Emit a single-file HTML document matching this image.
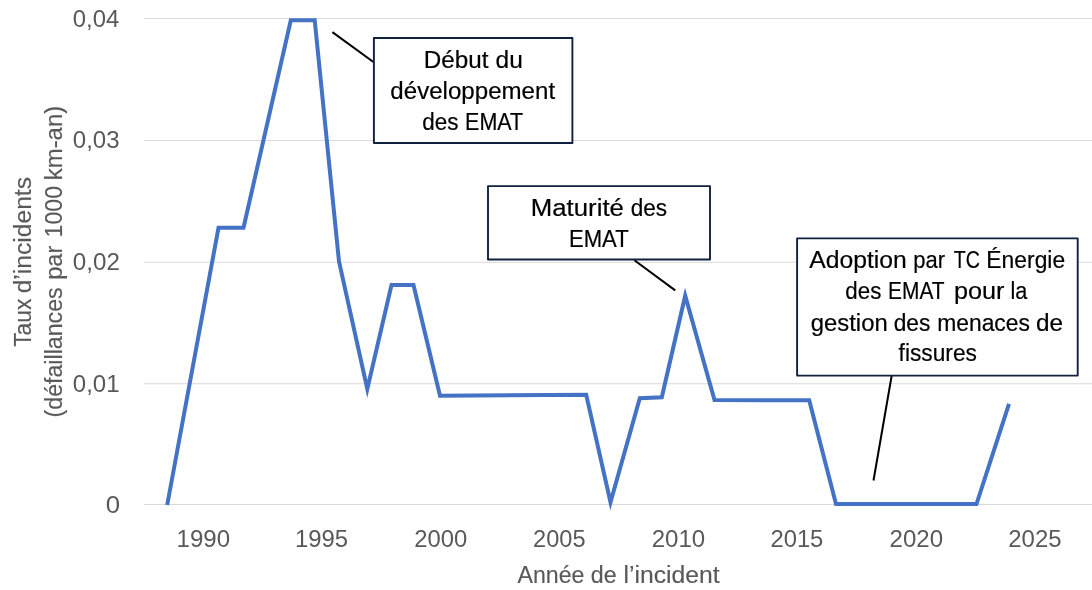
<!DOCTYPE html>
<html lang="fr">
<head>
<meta charset="utf-8">
<title>Taux d’incidents – EMAT</title>
<style>
  html, body { margin: 0; padding: 0; background: #ffffff; }
  body { width: 1092px; height: 590px; overflow: hidden; }
  svg { display: block; }
  text { font-family: "Liberation Sans", sans-serif; font-size: 24.6px; white-space: pre; }
  .ax { fill: #595959; stroke: #595959; stroke-width: 0.15px; }
  .tk { stroke: none; }
  .an { fill: #000000; stroke: #000000; stroke-width: 0.2px; }
  .grid line { stroke: #d9d9d9; stroke-width: 1.1; }
  .box { fill: #ffffff; stroke: #10213f; stroke-width: 1.9; stroke-linejoin: round; }
  .lead { stroke: #000000; stroke-width: 2; fill: none; }
  .series { fill: none; stroke: #4472c4; stroke-width: 4; stroke-linejoin: miter; stroke-miterlimit: 10; stroke-linecap: butt; }
</style>
</head>
<body>
<svg width="1092" height="590" viewBox="0 0 1092 590">
  <rect x="0" y="0" width="1092" height="590" fill="#ffffff"/>

  <!-- gridlines -->
  <g class="grid">
    <line x1="144" y1="18.5" x2="1092" y2="18.5"/>
    <line x1="144" y1="140.5" x2="1092" y2="140.5"/>
    <line x1="144" y1="262.3" x2="1092" y2="262.3"/>
    <line x1="144" y1="383.8" x2="1092" y2="383.8"/>
    <line x1="144" y1="504.5" x2="1092" y2="504.5"/>
  </g>

  <!-- y tick labels -->
  <text class="ax tk" y="27"><tspan x="72.8" textLength="46.52" lengthAdjust="spacingAndGlyphs">0,04</tspan></text>
  <text class="ax tk" y="148"><tspan x="72.8" textLength="46.78" lengthAdjust="spacingAndGlyphs">0,03</tspan></text>
  <text class="ax tk" y="270"><tspan x="72.8" textLength="47.04" lengthAdjust="spacingAndGlyphs">0,02</tspan></text>
  <text class="ax tk" y="392"><tspan x="72.8" textLength="46.77" lengthAdjust="spacingAndGlyphs">0,01</tspan></text>
  <text class="ax tk" y="513"><tspan x="105.8" textLength="14.33" lengthAdjust="spacingAndGlyphs">0</tspan></text>

  <!-- x tick labels -->
  <text class="ax tk" y="547"><tspan x="176.55" textLength="53.51" lengthAdjust="spacingAndGlyphs">1990</tspan></text>
  <text class="ax tk" y="547"><tspan x="295" textLength="53.12" lengthAdjust="spacingAndGlyphs">1995</tspan></text>
  <text class="ax tk" y="547"><tspan x="414.2" textLength="53.03" lengthAdjust="spacingAndGlyphs">2000</tspan></text>
  <text class="ax tk" y="547"><tspan x="533.1" textLength="52.42" lengthAdjust="spacingAndGlyphs">2005</tspan></text>
  <text class="ax tk" y="547"><tspan x="651.75" textLength="53.48" lengthAdjust="spacingAndGlyphs">2010</tspan></text>
  <text class="ax tk" y="547"><tspan x="770.4" textLength="52.98" lengthAdjust="spacingAndGlyphs">2015</tspan></text>
  <text class="ax tk" y="547"><tspan x="889.6" textLength="53.48" lengthAdjust="spacingAndGlyphs">2020</tspan></text>
  <text class="ax tk" y="547"><tspan x="1008.25" textLength="53.28" lengthAdjust="spacingAndGlyphs">2025</tspan></text>

  <!-- axis titles -->
  <text class="ax" y="583"><tspan x="517.45" textLength="67.05" lengthAdjust="spacingAndGlyphs">Année</tspan> <tspan x="590.85" textLength="25.88" lengthAdjust="spacingAndGlyphs">de</tspan> <tspan x="623.45" textLength="96.25" lengthAdjust="spacingAndGlyphs">l’incident</tspan></text>
  <text class="ax" transform="translate(30.6,0) rotate(-90)" y="0"><tspan x="-346.8" textLength="48.09" lengthAdjust="spacingAndGlyphs">Taux</tspan> <tspan x="-293.35" textLength="116.36" lengthAdjust="spacingAndGlyphs">d’incidents</tspan></text>
  <text class="ax" transform="translate(61.9,0) rotate(-90)" y="0"><tspan x="-417.45" textLength="130.06" lengthAdjust="spacingAndGlyphs">(défaillances</tspan> <tspan x="-279.85" textLength="34.11" lengthAdjust="spacingAndGlyphs">par</tspan> <tspan x="-237.45" textLength="51.45" lengthAdjust="spacingAndGlyphs">1000</tspan> <tspan x="-180.25" textLength="74.46" lengthAdjust="spacingAndGlyphs">km-an)</tspan></text>

  <!-- data line -->
  <polyline class="series"
    points="167.2,505 218.5,227.8 243.5,227.8 290.8,20.3 314.7,20.3 339,261.5 367.3,388.9 391.5,285 413.5,285 440,395.8 586.2,394.8 610.5,502.3 639.8,398.3 661.8,397.3 685.2,295.7 714.5,400 809.2,400.3 836,504 976.5,504 1009,403.8"/>

  <!-- annotation 1 -->
  <line class="lead" x1="332.4" y1="32.1" x2="373.4" y2="62"/>
  <rect class="box" x="373.9" y="38" width="198.5" height="105"/>
  <text class="an" y="68"><tspan x="423.7" textLength="64.71" lengthAdjust="spacingAndGlyphs">Début</tspan> <tspan x="495.5" textLength="27.29" lengthAdjust="spacingAndGlyphs">du</tspan></text>
  <text class="an" y="99"><tspan x="390.35" textLength="164.75" lengthAdjust="spacingAndGlyphs">développement</tspan></text>
  <text class="an" y="130"><tspan x="422.2" textLength="36.2" lengthAdjust="spacingAndGlyphs">des</tspan> <tspan x="465.05" textLength="58.12" lengthAdjust="spacingAndGlyphs">EMAT</tspan></text>

  <!-- annotation 2 -->
  <line class="lead" x1="634.4" y1="260.3" x2="675.2" y2="290.4"/>
  <rect class="box" x="488" y="186.1" width="222" height="73.4"/>
  <text class="an" y="216"><tspan x="530.8" textLength="93.15" lengthAdjust="spacingAndGlyphs">Maturité</tspan> <tspan x="630.7" textLength="36.4" lengthAdjust="spacingAndGlyphs">des</tspan></text>
  <text class="an" y="247"><tspan x="568.9" textLength="59.77" lengthAdjust="spacingAndGlyphs">EMAT</tspan></text>

  <!-- annotation 3 -->
  <line class="lead" x1="891.8" y1="375" x2="873.5" y2="480.5"/>
  <rect class="box" x="797.1" y="238.4" width="280.6" height="137.2"/>
  <text class="an" y="268"><tspan x="809.3" textLength="97.55" lengthAdjust="spacingAndGlyphs">Adoption</tspan> <tspan x="913.2" textLength="31.81" lengthAdjust="spacingAndGlyphs">par</tspan> <tspan x="953.85" textLength="26.09" lengthAdjust="spacingAndGlyphs">TC</tspan> <tspan x="986.35" textLength="78.84" lengthAdjust="spacingAndGlyphs">Énergie</tspan></text>
  <text class="an" y="299"><tspan x="845.35" textLength="36.05" lengthAdjust="spacingAndGlyphs">des</tspan> <tspan x="888.1" textLength="56.1" lengthAdjust="spacingAndGlyphs">EMAT</tspan> <tspan x="953.95" textLength="50.51" lengthAdjust="spacingAndGlyphs">pour</tspan> <tspan x="1010.5" textLength="16.87" lengthAdjust="spacingAndGlyphs">la</tspan></text>
  <text class="an" y="331"><tspan x="810.7" textLength="77.02" lengthAdjust="spacingAndGlyphs">gestion</tspan> <tspan x="893.65" textLength="36.68" lengthAdjust="spacingAndGlyphs">des</tspan> <tspan x="937.2" textLength="92.76" lengthAdjust="spacingAndGlyphs">menaces</tspan> <tspan x="1036" textLength="27.1" lengthAdjust="spacingAndGlyphs">de</tspan></text>
  <text class="an" y="361"><tspan x="898.6" textLength="78.35" lengthAdjust="spacingAndGlyphs">fissures</tspan></text>
</svg>
</body>
</html>
